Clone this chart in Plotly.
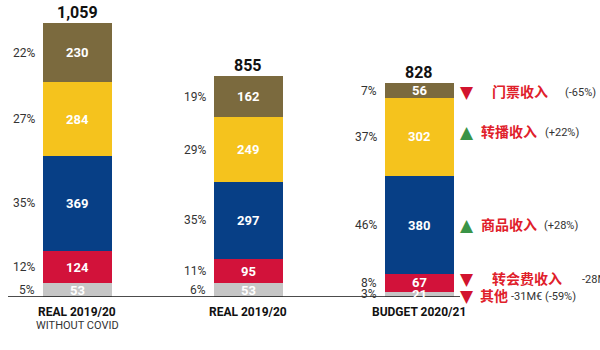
import plotly.graph_objects as go

categories = ["REAL 2019/20<br>WITHOUT COVID", "REAL 2019/20", "BUDGET 2020/21"]
cat_main = ["REAL 2019/20", "REAL 2019/20", "BUDGET 2020/21"]
cat_sub = ["WITHOUT COVID", "", ""]
totals = [1059, 855, 828]
totals_text = ["1,059", "855", "828"]

other = [53, 53, 21]
transfers = [124, 95, 67]
commercial = [369, 297, 380]
broadcasting = [284, 249, 302]
matchday = [230, 162, 56]

pct_other = ["5%", "6%", "3%"]
pct_transfers = ["12%", "11%", "8%"]
pct_commercial = ["35%", "35%", "46%"]
pct_broadcasting = ["27%", "29%", "37%"]
pct_matchday = ["22%", "19%", "7%"]

changes = [
    ("down", "门票收入", "(-65%)"),
    ("up", "转播收入", "(+22%)"),
    ("up", "商品收入", "(+28%)"),
    ("down", "转会费收入", "-28M€"),
    ("down", "其他", "-31M€ (-59%)"),
]

series = [
    (other, pct_other, "#c6c6c6"),
    (transfers, pct_transfers, "#d2123a"),
    (commercial, pct_commercial, "#073f86"),
    (broadcasting, pct_broadcasting, "#f5c31d"),
    (matchday, pct_matchday, "#7b6a3e"),
]

W, H = 600, 350
BOTTOM = 53
PLOT_H = H - BOTTOM
YMAX = 1148

NARROW = "Roboto, Liberation Sans, sans-serif"
CJK = "Noto Sans CJK SC, sans-serif"

def py(pix):
    return (PLOT_H - pix) / PLOT_H

def px(pix):
    return pix / W

fig = go.Figure()
ann = []
cum = [0, 0, 0]
for vals, pcts, color in series:
    fig.add_trace(go.Bar(x=categories, y=vals, marker=dict(color=color, line=dict(width=0)),
                         width=0.405, showlegend=False, hoverinfo="skip"))
    for i, v in enumerate(vals):
        mid = cum[i] + v / 2
        ann.append(dict(x=categories[i], y=mid, xref="x", yref="y", text=f"<b>{v}</b>",
                        showarrow=False, font=dict(family=NARROW, size=13, color="white"),
                        xanchor="center", yanchor="middle"))
        ann.append(dict(x=categories[i], y=mid, xref="x", yref="y", text=pcts[i],
                        showarrow=False, font=dict(family=NARROW, size=12, color="#333333"),
                        xanchor="right", yanchor="middle", xshift=-40))
        cum[i] += v

for i, t in enumerate(totals):
    ann.append(dict(x=categories[i], y=t, xref="x", yref="y", text=f"<b>{totals_text[i]}</b>",
                    showarrow=False, font=dict(family=NARROW, size=16, color="#111111"),
                    xanchor="center", yanchor="bottom", yshift=-1))
    label = f"<b>{cat_main[i]}</b>"
    ann.append(dict(x=categories[i], y=py(312), xref="x", yref="paper", text=label,
                    showarrow=False, font=dict(family=NARROW, size=12, color="#111111"),
                    xanchor="center", yanchor="middle"))
    if cat_sub[i]:
        ann.append(dict(x=categories[i], y=py(325), xref="x", yref="paper", text=cat_sub[i],
                        showarrow=False, font=dict(family=NARROW, size=11, color="#333333"),
                        xanchor="center", yanchor="middle"))

rows = [
    (92, 467, 490, 563),
    (132, 467, 479, 543),
    (225, 467, 479, 542),
    (279, 467, 490, 580),
    (296, 467, 478, 509),
]
for (direction, name, chg), (ypix, tri_x, name_x, chg_x) in zip(changes, rows):
    tri = "▼" if direction == "down" else "▲"
    tcol = "#d2142e" if direction == "down" else "#3a9447"
    ann.append(dict(x=px(tri_x), y=py(ypix), xref="paper", yref="paper", text=tri,
                    showarrow=False, font=dict(family="DejaVu Sans", size=17, color=tcol),
                    xanchor="center", yanchor="middle"))
    ann.append(dict(x=px(name_x), y=py(ypix - 1), xref="paper", yref="paper", text=f"<b>{name}</b>",
                    showarrow=False, font=dict(family=CJK, size=14, color="#e0202a"),
                    xanchor="left", yanchor="middle"))
    ann.append(dict(x=px(chg_x), y=py(ypix), xref="paper", yref="paper", text=chg,
                    showarrow=False, font=dict(family=NARROW, size=11, color="#333333"),
                    xanchor="left", yanchor="middle"))

fig.update_layout(
    width=W, height=H,
    margin=dict(l=0, r=0, t=0, b=BOTTOM, pad=0),
    barmode="stack",
    plot_bgcolor="white", paper_bgcolor="white",
    xaxis=dict(range=[-0.453, 3.056], showticklabels=False, showgrid=False, zeroline=False,
               showline=False, ticks=""),
    yaxis=dict(range=[0, YMAX], visible=False, showgrid=False, zeroline=False),
    annotations=ann,
    shapes=[dict(type="line", xref="paper", yref="y", x0=px(8), x1=px(460), y0=0, y1=0,
                 line=dict(color="#111111", width=1.5))],
)

fig.write_html("out.html")
